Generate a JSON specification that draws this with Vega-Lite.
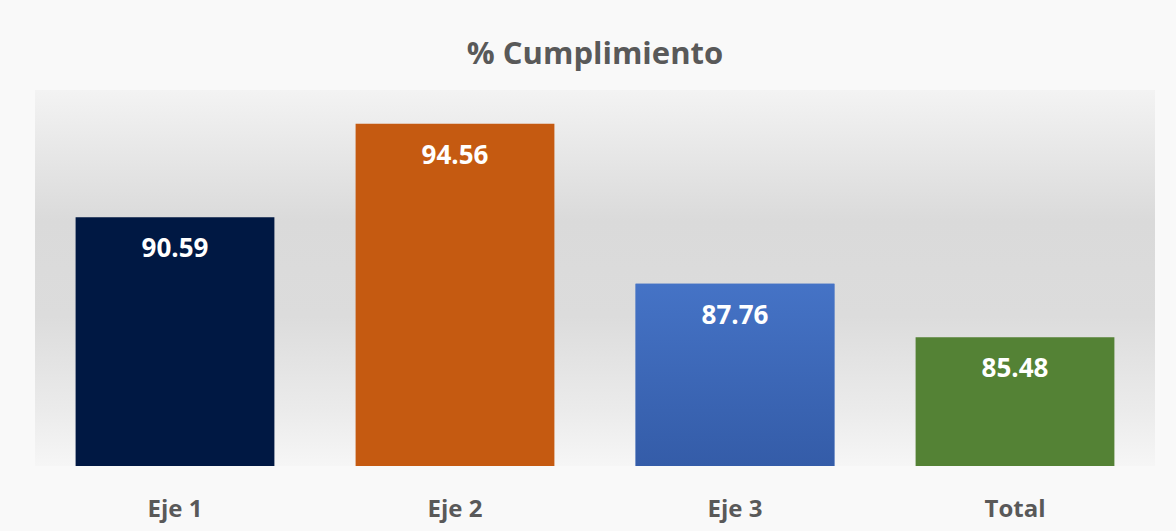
{
  "$schema": "https://vega.github.io/schema/vega-lite/v6.json",
  "width": 1120,
  "height": 376,
  "autosize": {"type": "none"},
  "padding": {"left": 35, "top": 90, "right": 21, "bottom": 65},
  "background": "#f9f9f9",
  "title": {
    "text": "% Cumplimiento",
    "font": "Open Sans",
    "fontSize": 31,
    "fontWeight": "bold",
    "color": "#595959",
    "anchor": "middle",
    "baseline": "alphabetic",
    "offset": -5
  },
  "data": {
    "values": [
      {"eje": "Eje 1", "valor": 90.59},
      {"eje": "Eje 2", "valor": 94.56},
      {"eje": "Eje 3", "valor": 87.76},
      {"eje": "Total", "valor": 85.48}
    ]
  },
  "encoding": {
    "x": {
      "field": "eje",
      "type": "nominal",
      "sort": null,
      "scale": {"paddingInner": 0.29, "paddingOuter": 0.145},
      "axis": {
        "title": null,
        "domain": false,
        "ticks": false,
        "labelAngle": 0,
        "labelFont": "Open Sans",
        "labelFontSize": 24,
        "labelFontWeight": "bold",
        "labelColor": "#595959",
        "labelPadding": 31
      }
    },
    "y": {
      "field": "valor",
      "type": "quantitative",
      "scale": {"domain": [80, 96], "zero": false, "nice": false},
      "axis": null
    }
  },
  "layer": [
    {
      "mark": {"type": "bar"},
      "encoding": {
        "y2": {"datum": 80},
        "color": {
          "field": "eje",
          "type": "nominal",
          "scale": {"domain": ["Eje 1", "Eje 2", "Eje 3", "Total"], "range": ["#001843", "#c55a11", "#4472c4", "#548235"]},
          "legend": null
        }
      }
    },
    {
      "transform": [{"filter": "datum.eje === 'Eje 3'"}],
      "mark": {
        "type": "bar",
        "fill": {
          "gradient": "linear", "x1": 0, "y1": 0, "x2": 0, "y2": 1,
          "stops": [{"offset": 0, "color": "#4573c6"}, {"offset": 1, "color": "#345ca8"}]
        }
      },
      "encoding": {"y2": {"datum": 80}}
    },
    {
      "mark": {
        "type": "text",
        "font": "Open Sans",
        "fontSize": 26,
        "fontWeight": "bold",
        "color": "#ffffff",
        "baseline": "alphabetic",
        "dy": 40
      },
      "encoding": {"text": {"field": "valor", "type": "quantitative", "format": ".2f"}}
    }
  ],
  "config": {
    "view": {
      "stroke": null,
      "fill": {
        "gradient": "linear", "x1": 0, "y1": 0, "x2": 0, "y2": 1,
        "stops": [
          {"offset": 0, "color": "#f3f3f3"},
          {"offset": 0.35, "color": "#dadada"},
          {"offset": 0.6, "color": "#dcdcdc"},
          {"offset": 0.85, "color": "#ebebeb"},
          {"offset": 1, "color": "#f6f6f6"}
        ]
      }
    }
  }
}
